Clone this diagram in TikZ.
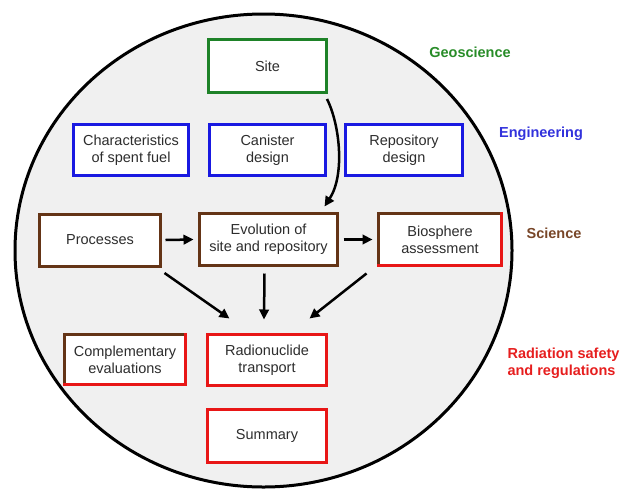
\documentclass[tikz,border=0pt]{standalone}
\usepackage{fontspec}
\setmainfont{Liberation Sans}
\usetikzlibrary{arrows.meta,calc}
\definecolor{cgreen}{RGB}{30,130,40}
\definecolor{cblue}{RGB}{25,25,225}
\definecolor{cbrown}{RGB}{100,52,22}
\definecolor{cred}{RGB}{232,22,22}
\definecolor{txt}{RGB}{45,45,45}
\definecolor{circfill}{RGB}{240,240,240}
\definecolor{lgreen}{RGB}{40,140,40}
\definecolor{lblue}{RGB}{50,50,220}
\definecolor{lbrown}{RGB}{120,70,40}
\definecolor{lred}{RGB}{230,30,30}
\begin{document}
\begin{tikzpicture}[x=1pt,y=-1pt,
  font=\fontsize{14.5}{17}\selectfont,
  box/.style={line width=3pt, fill=white, align=center, text=txt, inner sep=0pt, outer sep=0pt, line join=miter},
  edge/.style={line width=3pt, line cap=rect},
  arr/.style={line width=2.5pt, -{Triangle[length=10pt,width=9.5pt]}},
  lab/.style={font=\fontsize{14.5}{17}\selectfont\bfseries, align=left}]
\useasboundingbox (0,0) rectangle (626,493);
\draw[line width=3pt, fill=circfill] (263.5,250.5) ellipse [x radius=248.5, y radius=236.5];

\node[box, draw=cgreen, minimum width=118pt, minimum height=53pt] (site) at (267.5,66) {Site};
\node[box, draw=cblue, minimum width=115pt, minimum height=51pt] (char) at (131,150) {Characteristics\\of spent fuel};
\node[box, draw=cblue, minimum width=116pt, minimum height=51pt] (can) at (267.5,150) {Canister\\design};
\node[box, draw=cblue, minimum width=117pt, minimum height=51pt] (rep) at (404,150) {Repository\\design};
\node[box, draw=cbrown, minimum width=121pt, minimum height=52pt] (proc) at (100,240) {Processes};
\node[box, draw=cbrown, minimum width=138pt, minimum height=52pt] (evo) at (268.5,239.5) {Evolution of\\site and repository};
\node[box, minimum width=123pt, minimum height=52pt] (bio) at (440,239.5) {Biosphere\\assessment};
\node[box, minimum width=121pt, minimum height=50pt] (comp) at (125,359.5) {Complementary\\evaluations};
\node[box, draw=cred, minimum width=119pt, minimum height=51pt] (radio) at (267,360) {Radionuclide\\transport};
\node[box, draw=cred, minimum width=119pt, minimum height=53pt] (sum) at (267,436) {Summary};

\draw[edge, cbrown] (bio.south west) -- (bio.north west) -- (bio.north east);
\draw[edge, cred] (bio.north east) -- (bio.south east) -- (bio.south west);
\draw[edge, cbrown] (comp.south west) -- (comp.north west) -- (comp.north east);
\draw[edge, cred] (comp.north east) -- (comp.south east) -- (comp.south west);

\draw[arr] ($(site.south east)+(0.5,6.5)$) .. controls (340,125) and (345,175) .. ($(evo.north east)+(-13,-7)$);
\draw[arr] ($(proc.east)+(5,0)$) -- ($(evo.west)+(-6,0)$);
\draw[arr] ($(evo.east)+(6,0)$) -- ($(bio.west)+(-6,0)$);
\draw[arr] ($(proc.south east)+(4,7)$) -- ($(radio.north west)+(22,-16)$);
\draw[arr] ($(evo.south)+(-4,8)$) -- ($(radio.north)+(-3,-15)$);
\draw[arr] ($(bio.south west)+(-12,8)$) -- ($(radio.north east)+(-17,-16)$);

\node[lab, text=lgreen] (lgeo) at (470,52) {Geoscience};
\node[lab, text=lblue] (leng) at (541,134) {Engineering};
\node[lab, text=lbrown] (lsci) at (554,233) {Science};
\node[lab, text=lred, anchor=west] (lrad) at (504,363) {Radiation safety\\and regulations};
\end{tikzpicture}
\end{document}
